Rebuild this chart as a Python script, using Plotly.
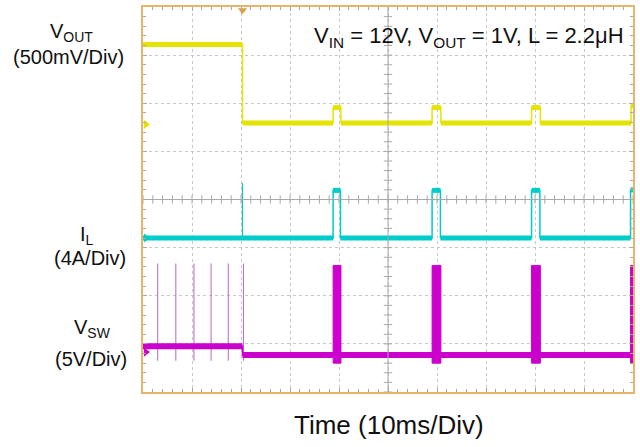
import numpy as np
import plotly.graph_objects as go

# ---------------- data (time in ms, amplitude in screen divisions) ----------------
time_range_ms = [0, 100]
div_range = [-4, 4]

vout_edges_ms = [20.3, 38.8, 40.4, 59.0, 60.8, 79.3, 81.1, 99.6]
vout_levels_div = [3.22, 1.59, 1.91, 1.59, 1.91, 1.59, 1.91, 1.59, 1.95]

il_edges_ms = [38.8, 40.3, 59.0, 60.7, 79.3, 81.0, 99.5]
il_levels_div = [-0.80, 0.19, -0.80, 0.19, -0.80, 0.19, -0.80, 0.20]
il_spike_ms = [20.3]
il_spike_top_div = 0.34

vsw_edges_ms = [20.3]
vsw_levels_div = [-3.05, -3.23]
vsw_spikes_ms = [3.0, 6.7, 10.4, 13.9, 17.4, 20.5]
vsw_spike_top_div = -1.33
vsw_spike_bottom_div = -3.35
vsw_burst_start_ms = [38.8, 59.0, 79.3, 99.5]
vsw_burst_end_ms = [40.4, 60.8, 81.1, 100.0]
vsw_burst_top_div = -1.37
vsw_burst_bottom_div = -3.40

marker_levels_div = {"vout": 1.56, "il": -0.80, "vsw": -3.17}
trigger_ms = 20.3

C_VOUT = "#e4e400"
C_IL = "#00cccc"
C_VSW = "#cc00cc"
C_FRAME = "#e8b468"

W, H = 640, 447
L, R, T, B = 143, 5, 5, 55


def step(edges, levels, t0=0, t1=100):
    xs, ys = [t0], [levels[0]]
    for e, a, b in zip(edges, levels[:-1], levels[1:]):
        xs += [e, e]
        ys += [a, b]
    xs.append(t1)
    ys.append(levels[-1])
    return xs, ys


def bands(edges, levels, t0=0, t1=100):
    bounds = [t0] + list(edges) + [t1]
    xs, ys = [], []
    for i, lv in enumerate(levels):
        xs += [bounds[i], bounds[i + 1], None]
        ys += [lv, lv, None]
    return xs, ys


def px(x):
    return (x - L) / (W - L - R)


def py(y):
    return (H - B - y) / (H - T - B)


fig = go.Figure()

# center cross lines with ticks
fig.add_shape(type="line", x0=50, x1=50, y0=-4, y1=4, line=dict(color="#a8a8a8", width=1))
fig.add_shape(type="line", x0=0, x1=100, y0=0, y1=0, line=dict(color="#a8a8a8", width=1))
tx = np.arange(0, 100.01, 2)
fig.add_trace(go.Scatter(x=tx, y=np.zeros_like(tx), mode="markers", hoverinfo="skip",
                         marker=dict(symbol="line-ns", size=6, line=dict(color="#a8a8a8", width=1))))
ty = np.arange(-4, 4.001, 0.2)
fig.add_trace(go.Scatter(x=np.full_like(ty, 50), y=ty, mode="markers", hoverinfo="skip",
                         marker=dict(symbol="line-ew", size=6, line=dict(color="#a8a8a8", width=1))))

# VOUT
x, y = step(vout_edges_ms, vout_levels_div)
fig.add_trace(go.Scatter(x=x, y=y, mode="lines", line=dict(color=C_VOUT, width=1.5)))
x, y = bands(vout_edges_ms, vout_levels_div)
fig.add_trace(go.Scatter(x=x, y=y, mode="lines", line=dict(color=C_VOUT, width=5)))

# IL
x, y = step(il_edges_ms, il_levels_div)
fig.add_trace(go.Scatter(x=x, y=y, mode="lines", line=dict(color=C_IL, width=1.5)))
x, y = bands(il_edges_ms, il_levels_div)
fig.add_trace(go.Scatter(x=x, y=y, mode="lines", line=dict(color=C_IL, width=5)))
sx, sy = [], []
for s in il_spike_ms:
    sx += [s, s, None]
    sy += [il_levels_div[0], il_spike_top_div, None]
fig.add_trace(go.Scatter(x=sx, y=sy, mode="lines", line=dict(color=C_IL, width=1.2)))

# VSW
sx, sy = [], []
for s in vsw_spikes_ms:
    sx += [s, s, None]
    sy += [vsw_spike_bottom_div, vsw_spike_top_div, None]
fig.add_trace(go.Scatter(x=sx, y=sy, mode="lines", line=dict(color="#b466c8", width=1)))
x, y = step(vsw_edges_ms, vsw_levels_div)
fig.add_trace(go.Scatter(x=x, y=y, mode="lines", line=dict(color=C_VSW, width=1.5)))
x, y = bands(vsw_edges_ms, vsw_levels_div)
fig.add_trace(go.Scatter(x=x, y=y, mode="lines", line=dict(color=C_VSW, width=6)))
bx, by = [], []
for s, e in zip(vsw_burst_start_ms, vsw_burst_end_ms):
    bx += [s, e, e, s, s, None]
    by += [vsw_burst_bottom_div, vsw_burst_bottom_div, vsw_burst_top_div, vsw_burst_top_div,
           vsw_burst_bottom_div, None]
fig.add_trace(go.Scatter(x=bx, y=by, mode="lines", fill="toself", fillcolor=C_VSW,
                         line=dict(color=C_VSW, width=1)))

# channel markers and trigger marker
fig.add_trace(go.Scatter(
    x=[0.6, 0.6, 0.6], y=[marker_levels_div["vout"], marker_levels_div["il"], marker_levels_div["vsw"]],
    mode="markers", cliponaxis=False, hoverinfo="skip",
    marker=dict(symbol="triangle-right", size=8, color=[C_VOUT, C_IL, C_VSW])))
fig.add_trace(go.Scatter(x=[trigger_ms], y=[3.93], mode="markers", cliponaxis=False, hoverinfo="skip",
                         marker=dict(symbol="triangle-down", size=8, color="#e0a040")))

ann_font = dict(family="Liberation Sans, Arial, sans-serif", color="#111111")
anns = [
    dict(text="V<sub>OUT</sub>", x=px(71), y=py(31), size=20),
    dict(text="(500mV/Div)", x=px(68), y=py(55), size=20),
    dict(text="I<sub>L</sub>", x=px(87), y=py(235), size=20),
    dict(text="(4A/Div)", x=px(90), y=py(257), size=20),
    dict(text="V<sub>SW</sub>", x=px(92), y=py(328), size=20),
    dict(text="(5V/Div)", x=px(91), y=py(359), size=20),
    dict(text="V<sub>IN</sub> = 12V, V<sub>OUT</sub> = 1V, L = 2.2\u03bcH", x=px(470), y=py(35), size=22),
    dict(text="Time (10ms/Div)", x=px(390), y=py(425), size=26),
]
for a in anns:
    fig.add_annotation(text=a["text"], x=a["x"], y=a["y"], xref="paper", yref="paper",
                       xanchor="center", yanchor="middle", showarrow=False,
                       font=dict(size=a["size"], **ann_font))

axis_common = dict(showticklabels=False, zeroline=False, showline=True, linecolor=C_FRAME,
                   linewidth=2, mirror="allticks", ticks="inside", ticklen=4, tickcolor="#a8a8a8",
                   showgrid=True, gridcolor="#c8c8c8", griddash="dot", gridwidth=1, fixedrange=True)
fig.update_xaxes(range=time_range_ms, dtick=10, tick0=0,
                 minor=dict(dtick=2, ticks="inside", ticklen=3, tickcolor="#a8a8a8", showgrid=False),
                 **axis_common)
fig.update_yaxes(range=div_range, dtick=1, tick0=0,
                 minor=dict(dtick=0.2, ticks="inside", ticklen=3, tickcolor="#a8a8a8", showgrid=False),
                 **axis_common)

fig.update_layout(width=W, height=H, margin=dict(l=L, r=R, t=T, b=B),
                  paper_bgcolor="white", plot_bgcolor="white", showlegend=False)

fig.write_html("out.html", post_script="document.body.style.margin='0';",
               config={"displayModeBar": False})
